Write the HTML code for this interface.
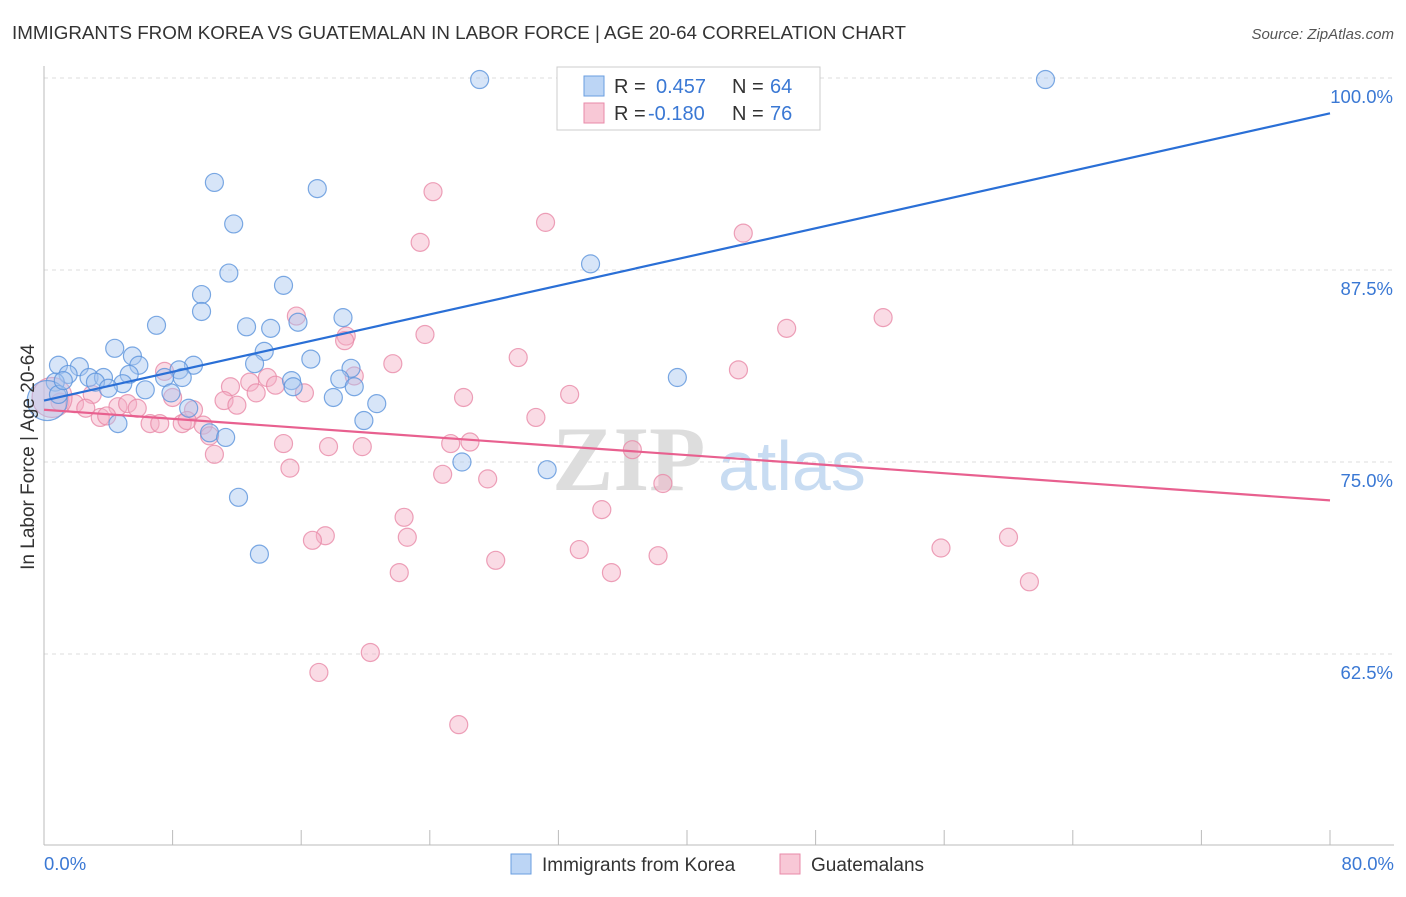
<!DOCTYPE html>
<html><head><meta charset="utf-8"><style>
body{margin:0;background:#fff;font-family:"Liberation Sans",sans-serif;}
</style></head><body>
<svg id="chart" width="1406" height="892" xmlns="http://www.w3.org/2000/svg" font-family="Liberation Sans, sans-serif">
<text x="12" y="39" font-size="18.8" fill="#333">IMMIGRANTS FROM KOREA VS GUATEMALAN IN LABOR FORCE | AGE 20-64 CORRELATION CHART</text>
<text x="1394" y="39" font-size="15" fill="#555" text-anchor="end" font-style="italic">Source: ZipAtlas.com</text>
<g>
<text x="552" y="490" font-size="92" fill="#ddd" font-family="Liberation Serif, serif" font-weight="bold">ZIP</text>
<text x="718" y="490" font-size="70" fill="#c8dcf2">atlas</text>
</g>
<g id="grid"></g>
<g id="axes"></g>
<g id="pts"></g>
<g id="lines"></g>
<text transform="translate(34,457) rotate(-90)" font-size="19" fill="#333" text-anchor="middle">In Labor Force | Age 20-64</text>
<g>
<rect x="557" y="67" width="263" height="63" fill="#fff" stroke="#ccc"/>
<rect x="584" y="76" width="20" height="20" fill="#bcd5f5" stroke="#6a9ee0"/>
<text x="614" y="93" font-size="20" fill="#333">R = </text><text x="656" y="93" font-size="20" fill="#3a78d4">0.457</text>
<text x="732" y="93" font-size="20" fill="#333">N = </text><text x="770" y="93" font-size="20" fill="#3a78d4">64</text>
<rect x="584" y="103" width="20" height="20" fill="#f8c8d6" stroke="#e88aa8"/>
<text x="614" y="120" font-size="20" fill="#333">R = </text><text x="648" y="120" font-size="20" fill="#3a78d4">-0.180</text>
<text x="732" y="120" font-size="20" fill="#333">N = </text><text x="770" y="120" font-size="20" fill="#3a78d4">76</text>
</g>
<g>
<rect x="511" y="854" width="20" height="20" fill="#bcd5f5" stroke="#6a9ee0"/>
<text x="542" y="871" font-size="19" fill="#333">Immigrants from Korea</text>
<rect x="780" y="854" width="20" height="20" fill="#f8c8d6" stroke="#e88aa8"/>
<text x="811" y="871" font-size="19" fill="#333">Guatemalans</text>
</g>
</svg>
<script>
const yTicks=[100,87.5,75,62.5];
const yTickLabels=["100.0%","87.5%","75.0%","62.5%"];
const xTicks=[0,8,16,24,32,40,48,56,64,72,80];
const blueX=[27.1,62.3,10.6,17.0,11.8,11.5,34.0,9.8,14.9,9.8,7.0,12.6,14.1,15.8,18.6,4.4,13.7,5.5,0.9,2.2,13.1,16.6,9.3,8.4,5.9,19.1,1.5,2.8,3.7,5.3,8.6,7.5,3.2,4.9,4.0,0.7,6.3,18.4,15.4,19.3,15.5,7.9,18.0,20.7,9.0,39.4,4.6,19.9,10.3,11.3,26.0,31.3,12.1,13.4,0.2,0.9,1.2];
const blueY=[99.9,99.9,93.2,92.8,90.5,87.3,87.9,85.9,86.5,84.8,83.9,83.8,83.7,84.1,84.4,82.4,82.2,81.9,81.3,81.2,81.4,81.7,81.3,81.0,81.3,81.1,80.7,80.5,80.5,80.7,80.5,80.5,80.2,80.1,79.8,80.2,79.7,80.4,80.3,79.9,79.9,79.5,79.2,78.8,78.5,80.5,77.5,77.7,76.9,76.6,75.0,74.5,72.7,69.0,79.0,79.4,80.3];
const pinkX=[24.2,31.2,23.4,43.5,52.2,15.7,46.2,23.7,18.8,18.7,29.5,21.7,43.2,7.5,12.8,13.9,11.6,14.4,19.3,13.2,26.1,32.7,16.2,8.0,3.0,1.0,1.9,2.6,4.6,5.2,5.8,9.3,11.2,12.0,6.6,7.2,8.6,8.9,3.5,3.9,30.6,9.9,10.3,10.6,14.9,17.7,19.8,25.3,26.5,36.6,15.3,24.8,27.6,38.5,22.4,34.7,17.5,16.7,22.6,33.3,55.8,60.0,38.2,28.1,22.1,35.3,61.3,20.3,17.1,25.8,0.5];
const pinkY=[92.6,90.6,89.3,89.9,84.4,84.5,83.7,83.3,83.2,82.9,81.8,81.4,81.0,80.9,80.2,80.5,79.9,80.0,80.6,79.5,79.2,79.4,79.5,79.2,79.4,78.9,78.8,78.5,78.6,78.8,78.5,78.4,79.0,78.7,77.5,77.5,77.5,77.7,77.9,78.0,77.9,77.4,76.7,75.5,76.2,76.0,76.0,76.2,76.3,75.8,74.6,74.2,73.9,73.6,71.4,71.9,70.2,69.9,70.1,69.3,69.4,70.1,68.9,68.6,67.8,67.8,67.2,62.6,61.3,57.9,79.2];
const blueTrend=[79.0,97.7];
const pinkTrend=[78.4,72.5];
const NS="http://www.w3.org/2000/svg";
const X0=44,X1=1330,Y100=78;
function sx(v){return X0+(v/80)*(X1-X0);}
function sy(v){return Y100+(100-v)*15.36;}
function mk(tag,attrs,parent){const e=document.createElementNS(NS,tag);for(const k in attrs)e.setAttribute(k,attrs[k]);parent.appendChild(e);return e;}
const grid=document.getElementById('grid'),axes=document.getElementById('axes'),pts=document.getElementById('pts'),lines=document.getElementById('lines');
yTicks.forEach((t,i)=>{
 const l=mk('line',{x1:X0,x2:1394,y1:sy(t),y2:sy(t),stroke:'#ddd','stroke-dasharray':'4,4'},grid);
 
 
 const tx=mk('text',{x:1393,y:sy(t)+25,'font-size':18.5,fill:'#3a78d4','text-anchor':'end'},grid);
 tx.textContent=yTickLabels[i];
 
 
});
const ya=mk('line',{x1:X0,x2:X0,y1:66,y2:845,stroke:'#bbb'},axes);


const xa=mk('line',{x1:X0,x2:1394,y1:845,y2:845,stroke:'#bbb'},axes);


xTicks.forEach(t=>{
 const l=mk('line',{x1:sx(t),x2:sx(t),y1:830,y2:845,stroke:'#bbb'},axes);
 
 
});
[[0,'0.0%','start',44],[80,'80.0%','end',1394]].forEach(a=>{
 const tx=mk('text',{x:a[3],y:870,'font-size':18.5,fill:'#3a78d4','text-anchor':a[2]},axes);
 tx.textContent=a[1];
 
 
});
function drawPts(xs,ys,fill,stroke,name){
 xs.forEach((x,i)=>{
  const big=(i===xs.length-1&&name==='guatemalan-point')||(name==='korea-point'&&i===54);
  const c=mk('circle',{cx:sx(x),cy:sy(ys[i]),r:big?20:9,fill:fill,'fill-opacity':0.45,stroke:stroke,'stroke-opacity':0.8,'stroke-width':1.2},pts);
  
  
 });
}
drawPts(pinkX,pinkY,'#f5b0c6','#e88aa8','guatemalan-point');
drawPts(blueX,blueY,'#a6c6f0','#5b93dc','korea-point');
const bl=mk('line',{x1:sx(0),y1:sy(blueTrend[0]),x2:sx(80),y2:sy(blueTrend[1]),stroke:'#2a6fd6','stroke-width':2.2},lines);


const pl=mk('line',{x1:sx(0),y1:sy(pinkTrend[0]),x2:sx(80),y2:sy(pinkTrend[1]),stroke:'#e8608f','stroke-width':2.2},lines);


</script>
</body></html>
